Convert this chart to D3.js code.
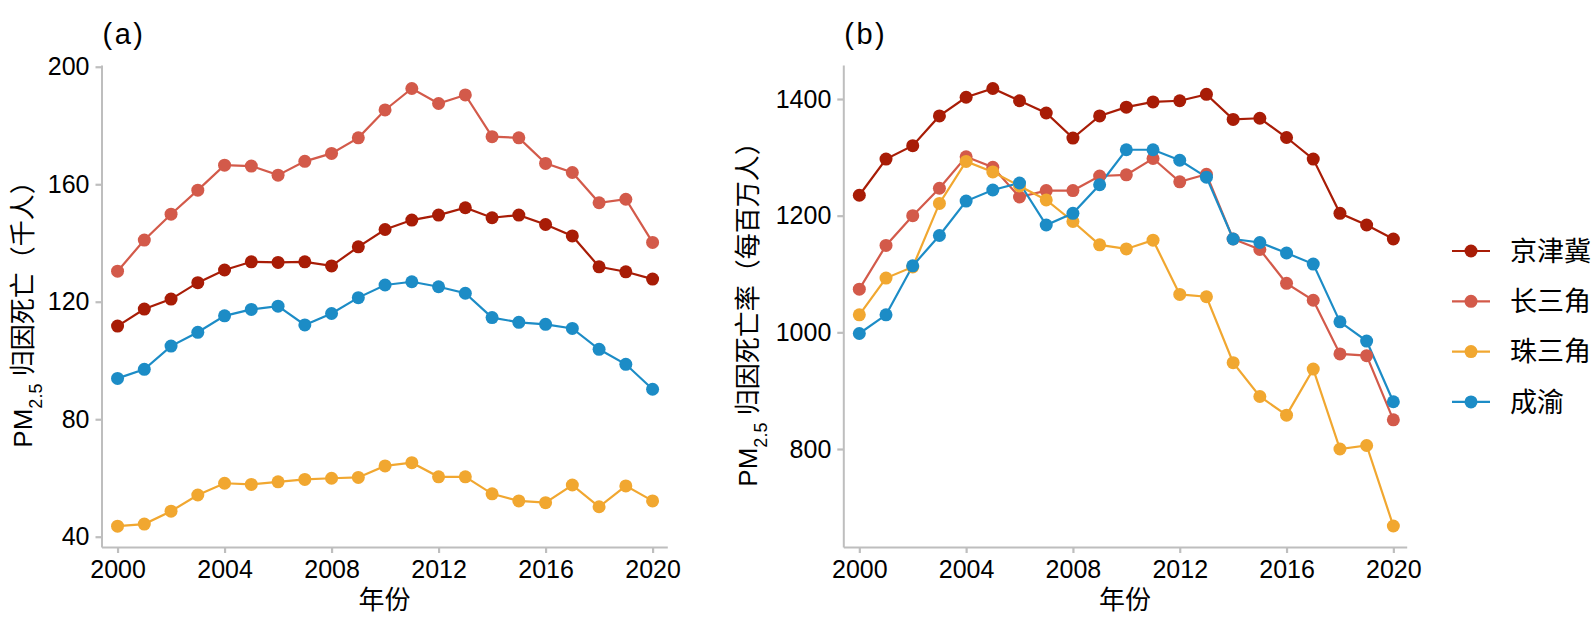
<!DOCTYPE html>
<html>
<head>
<meta charset="utf-8">
<script src="https://cdn.jsdelivr.net/npm/d3@7/dist/d3.min.js"></script>
<style>
body{margin:0;background:#fff;}
text{font-family:"Liberation Sans","Noto Sans CJK SC",sans-serif;fill:#000;}
</style>
</head>
<body>
<svg id="chart" width="1594" height="638"></svg>
<script>
// data
var years = [2000,2001,2002,2003,2004,2005,2006,2007,2008,2009,2010,2011,2012,2013,2014,2015,2016,2017,2018,2019,2020];
var regions = ["京津冀","长三角","珠三角","成渝"];
var colors = ["#A81C06","#D35A4A","#F1A730","#1C8CC6"];

// (a) attributable deaths, thousand people
var deathsJJJ = [111.7,117.5,120.9,126.5,130.8,133.6,133.4,133.6,132.2,138.7,144.6,147.8,149.5,152.0,148.6,149.5,146.3,142.4,131.9,130.2,127.7];
var deathsYRD = [130.4,141.0,149.8,158.0,166.5,166.2,163.1,167.8,170.5,175.8,185.3,192.6,187.5,190.4,176.2,175.8,167.1,164.0,153.7,154.9,140.2];
var deathsPRD = [43.6,44.3,48.7,54.2,58.2,57.8,58.7,59.5,59.9,60.2,64.1,65.2,60.4,60.4,54.6,52.2,51.6,57.6,50.2,57.3,52.2];
var deathsCY  = [93.9,97.0,104.9,109.6,115.2,117.4,118.5,112.1,116.0,121.4,125.7,126.8,125.1,122.9,114.6,113.0,112.3,110.9,103.8,98.7,90.2];

// (b) attributable death rate, per million people
var rateJJJ = [1235,1297,1320,1371,1403,1418,1397,1376,1333,1371,1386,1395,1397,1408,1365,1367,1334,1297,1204,1184,1160];
var rateYRD = [1074,1149,1200,1247,1301,1283,1232,1243,1243,1268,1270,1298,1258,1271,1160,1142,1084,1055,963,960,850];
var ratePRD = [1030,1093,1112,1221,1293,1275,1251,1227,1190,1150,1143,1158,1065,1061,948,890,858,937,800,806,668];
var rateCY  = [998,1030,1114,1166,1225,1244,1256,1184,1204,1253,1313,1313,1295,1266,1160,1154,1136,1117,1018,985,881];

var xTicks = [2000,2004,2008,2012,2016,2020];
var yTicksA = [40,80,120,160,200];
var yTicksB = [800,1000,1200,1400];

var svg = d3.select("#chart");
var axisGrey = "#BEBEBE";

function series(vals){
 return years.map(function(y,i){ return {year:y, v:vals[i]}; });
}

function panel(opt){
 var x = d3.scaleLinear().domain(opt.xDomain).range(opt.xRange);
 var y = d3.scaleLinear().domain(opt.yDomain).range([547,65]);
 var g = svg.append("g");

 var xa = g.append("g").attr("transform","translate(0,547)")
  .call(d3.axisBottom(x).tickValues(xTicks).tickFormat(d3.format("d")).tickSize(6).tickSizeOuter(0).tickPadding(7));
 var ya = g.append("g").attr("transform","translate(" + opt.xRange[0] + ",0)")
  .call(d3.axisLeft(y).tickValues(opt.yTicks).tickFormat(d3.format("d")).tickSize(6).tickSizeOuter(0).tickPadding(6));
 [xa,ya].forEach(function(a){
  a.attr("font-size",25);
  a.select(".domain").attr("stroke",axisGrey).attr("stroke-width",2);
  a.selectAll(".tick line").attr("stroke",axisGrey).attr("stroke-width",2.2);
  a.selectAll(".tick text").style("font-size","25px").attr("fill","#000");
 });

 var line = d3.line().x(function(d){return x(d.year);}).y(function(d){return y(d.v);});
 opt.data.forEach(function(vals,k){
  g.append("path").datum(series(vals)).attr("d",line)
   .attr("fill","none").attr("stroke",colors[k]).attr("stroke-width",2.2);
 });
 opt.data.forEach(function(vals,k){
  g.selectAll(null).data(series(vals)).enter().append("circle")
   .attr("cx",function(d){return x(d.year);}).attr("cy",function(d){return y(d.v);})
   .attr("r",6.5).attr("fill",colors[k]);
 });

 // x title
 g.append("text").attr("x",(opt.xRange[0]+opt.xRange[1])/2).attr("y",609)
  .attr("text-anchor","middle").style("font-size","26px").text("年份");
 // y title
 var t = g.append("text").attr("transform","translate(" + opt.titleX + ",308) rotate(-90)")
  .attr("text-anchor","middle").style("font-size","26px");
 t.append("tspan").text("PM");
 t.append("tspan").attr("baseline-shift","sub").style("font-size","18px").text("2.5");
 t.append("tspan").text(" " + opt.title);
 // panel tag
 g.append("text").attr("x",opt.xRange[0]+1).attr("y",44).style("font-size","29px")
  .style("letter-spacing","2.5px").text(opt.tag);
}

panel({xDomain:[1999.4,2020.55], xRange:[101.5,667.3], yDomain:[36.5,200.6], yTicks:yTicksA,
 data:[deathsJJJ,deathsYRD,deathsPRD,deathsCY], title:"归因死亡（千人）", titleX:32, tag:"(a)"});
panel({xDomain:[1999.4,2020.5], xRange:[843.3,1406.7], yDomain:[632,1458.3], yTicks:yTicksB,
 data:[rateJJJ,rateYRD,ratePRD,rateCY], title:"归因死亡率（每百万人）", titleX:757, tag:"(b)"});

// legend
var leg = svg.append("g");
regions.forEach(function(r,k){
 var cy = 251 + k*50.3;
 leg.append("line").attr("x1",1452).attr("x2",1490).attr("y1",cy).attr("y2",cy)
  .attr("stroke",colors[k]).attr("stroke-width",2.2);
 leg.append("circle").attr("cx",1471).attr("cy",cy).attr("r",6.5).attr("fill",colors[k]);
 leg.append("text").attr("x",1510).attr("y",cy).attr("dy","0.36em").style("font-size","27px").text(r);
});
</script>
</body>
</html>
